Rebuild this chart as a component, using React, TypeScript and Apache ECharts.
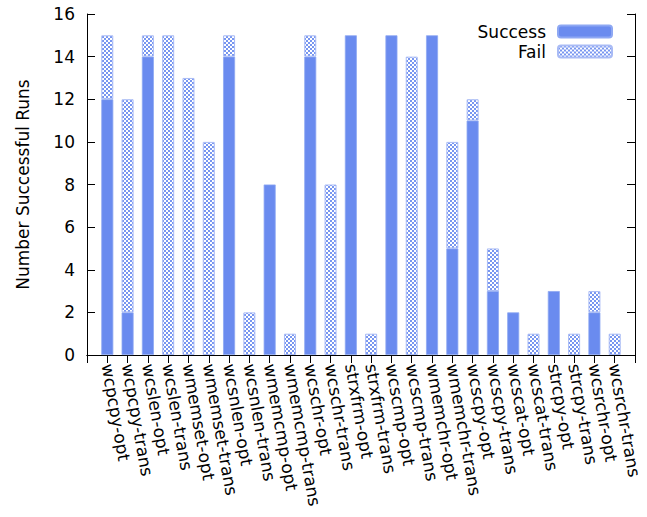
import React, { useEffect, useRef } from "react";
import * as echarts from "echarts";

const categories = [
  "wcpcpy-opt", "wcpcpy-trans", "wcslen-opt", "wcslen-trans", "wmemset-opt", "wmemset-trans",
  "wcsnlen-opt", "wcsnlen-trans", "wmemcmp-opt", "wmemcmp-trans", "wcschr-opt", "wcschr-trans",
  "strxfrm-opt", "strxfrm-trans", "wcscmp-opt", "wcscmp-trans", "wmemchr-opt", "wmemchr-trans",
  "wcscpy-opt", "wcscpy-trans", "wcscat-opt", "wcscat-trans", "strcpy-opt", "strcpy-trans",
  "wcsrchr-opt", "wcsrchr-trans",
];
const success = [12, 2, 14, 0, 0, 0, 14, 0, 8, 0, 14, 0, 15, 0, 15, 0, 15, 5, 11, 3, 2, 0, 3, 0, 2, 0];
const fail = [3, 10, 1, 15, 13, 10, 1, 2, 0, 1, 1, 8, 0, 1, 0, 14, 0, 5, 1, 2, 0, 1, 0, 1, 1, 1];
const yTicks = { min: 0, max: 16, interval: 2 };

const FONT = "DejaVu Sans";
const BLUE = "#6a8bef";

function makePattern(): HTMLCanvasElement {
  const c = document.createElement("canvas");
  c.width = 4;
  c.height = 4;
  const ctx = c.getContext("2d")!;
  ctx.fillStyle = "#ffffff";
  ctx.fillRect(0, 0, 4, 4);
  ctx.fillStyle = "#7896f0";
  ctx.fillRect(2, 0, 2, 2);
  ctx.fillRect(0, 2, 2, 2);
  return c;
}

export default function App() {
  const ref = useRef<HTMLDivElement>(null);
  useEffect(() => {
    if (!ref.current) return;
    const chart = echarts.init(ref.current, null, { renderer: "svg" });
    const pad = (a: (number | null)[]) => [null, ...a, null];
    const cats = ["", ...categories, ""];
    const nz = (a: number[]) => a.map((v) => (v === 0 ? null : v));
    const pattern = { image: makePattern(), repeat: "repeat" };
    chart.setOption({
      animation: false,
      grid: {
        left: 87, top: 14, right: 12, bottom: 162,
        containLabel: false, outerBoundsMode: "none",
      },
      legend: {
        right: 34, top: 23, orient: "vertical", align: "right", padding: 0,
        itemWidth: 54, itemHeight: 12, itemGap: 3, selectedMode: false,
        textStyle: { fontFamily: FONT, fontSize: 17, color: "#000", padding: [0, 7, 0, 0] },
        data: ["Success", "Fail"],
      },
      xAxis: [
        {
          type: "category", data: cats, boundaryGap: false, position: "bottom",
          axisLine: { lineStyle: { color: "#000", width: 1 } },
          axisTick: { show: false },
          axisLabel: {
            interval: 0, rotate: -80, margin: 9, fontFamily: FONT, fontSize: 17, color: "#000",
          },
          splitLine: { show: false },
        },
        {
          type: "category", data: cats, boundaryGap: false, position: "top",
          axisLine: { lineStyle: { color: "#000", width: 1 } },
          axisTick: { show: true, inside: true, length: 8, interval: 0, lineStyle: { color: "#000" } },
          axisLabel: { show: false },
          splitLine: { show: false },
        },
      ],
      yAxis: [
        {
          type: "value", ...yTicks, position: "left",
          name: "Number Successful Runs", nameLocation: "middle", nameGap: 56,
          nameTextStyle: { fontFamily: FONT, fontSize: 17, color: "#000" },
          axisLine: { show: true, lineStyle: { color: "#000", width: 1 } },
          axisTick: { show: true, inside: true, length: 8, lineStyle: { color: "#000" } },
          axisLabel: { margin: 12, fontFamily: FONT, fontSize: 17, color: "#000" },
          splitLine: { show: false },
        },
        {
          type: "value", ...yTicks, position: "right",
          axisLine: { show: true, lineStyle: { color: "#000", width: 1 } },
          axisTick: { show: true, inside: true, length: 8, lineStyle: { color: "#000" } },
          axisLabel: { show: false },
          splitLine: { show: false },
        },
      ],
      series: [
        {
          name: "Success", type: "bar", stack: "runs", barWidth: 12,
          xAxisIndex: 0, yAxisIndex: 0,
          itemStyle: { color: BLUE, borderColor: "#8ea8f3", borderWidth: 0.8 },
          data: pad(nz(success)),
        },
        {
          name: "Fail", type: "bar", stack: "runs", barWidth: 12,
          xAxisIndex: 0, yAxisIndex: 0,
          itemStyle: { color: pattern, borderColor: "#a9bbf5", borderWidth: 1 },
          data: pad(nz(fail)),
        },
      ],
    });
    return () => chart.dispose();
  }, []);
  return (
    <div
      ref={ref}
      style={{ position: "fixed", left: 0, top: 0, width: 647, height: 517, background: "#fff" }}
    />
  );
}
